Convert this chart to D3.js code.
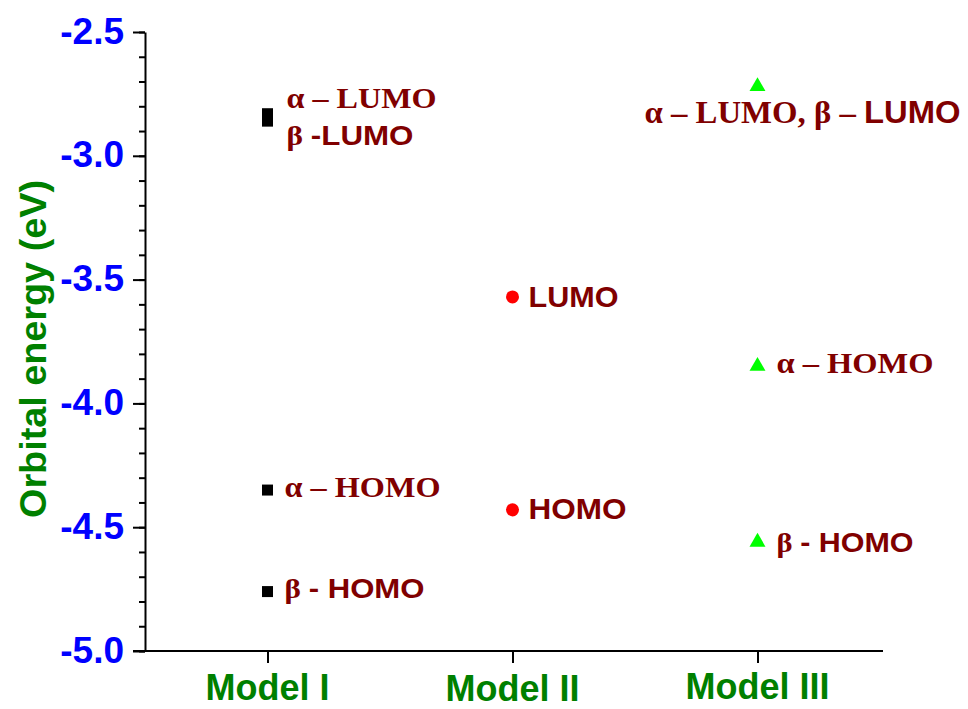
<!DOCTYPE html>
<html>
<head>
<meta charset="utf-8">
<script src="https://cdn.jsdelivr.net/npm/d3@7/dist/d3.min.js"></script>
<style>
  html, body { margin: 0; padding: 0; background: #fff; }
  svg { display: block; }
  .sans { font-family: "Liberation Sans", Arial, sans-serif; font-weight: bold; }
  .serif { font-family: "Liberation Serif", "Times New Roman", serif; font-weight: bold; }
</style>
</head>
<body>
<svg id="chart" width="968" height="709"></svg>
<script>
// Frontier orbital energies (eV) for the three models
const models = ["Model I", "Model II", "Model III"];
const yTicks = [-5.0, -4.5, -4.0, -3.5, -3.0, -2.5];

const model1Energies = [-2.83, -2.86, -4.35, -4.76];
const model1Labels = [
  [["serif", "α – LUMO"]],
  [["serif", "β "], ["sans", "-LUMO"]],
  [["serif", "α – HOMO"]],
  [["serif", "β "], ["sans", "- HOMO"]]
];

const model2Energies = [-3.57, -4.43];
const model2Labels = [
  [["sans", "LUMO"]],
  [["sans", "HOMO"]]
];

const model3Energies = [-2.72, -3.85, -4.56];
const model3Labels = [
  [["serif", "α – LUMO, β – "], ["sans", "LUMO"]],
  [["serif", "α – HOMO"]],
  [["serif", "β "], ["sans", "- HOMO"]]
];

// Label layout relative to each marker: [dx, dy to baseline, font size, run length]
const model1Place = [[19, -6, 30, 150], [19, 24, 27, 127], [17, 7, 30, 156], [17, 6, 27, 140]];
const model2Place = [[16, 10, 30, 90], [16, 9, 30, 98]];
const model3Place = [[-113, 37, 31, 316], [19, 7, 30, 157], [19, 10, 27, 137]];

const series = [
  { model: models[0], energies: model1Energies, labels: model1Labels, place: model1Place,
    symbol: d3.symbolSquare, size: 121, color: "#000000" },
  { model: models[1], energies: model2Energies, labels: model2Labels, place: model2Place,
    symbol: d3.symbolCircle, size: 133, color: "#ff0000" },
  { model: models[2], energies: model3Energies, labels: model3Labels, place: model3Place,
    symbol: d3.symbolTriangle, size: 110, color: "#00ff00" }
];

const svg = d3.select("#chart");
const plotLeft = 145, plotRight = 880, plotTop = 32, plotBottom = 651;

const x = d3.scalePoint().domain(models).range([plotLeft, plotRight]).padding(0.5);
const y = d3.scaleLinear().domain([-5.0, -2.5]).range([plotBottom, plotTop]);

// Minor y ticks every 0.1 eV
svg.append("g")
  .attr("transform", `translate(${plotLeft},0)`)
  .call(d3.axisLeft(y).tickValues(d3.range(-50, -24, 1).map(v => v / 10)).tickSize(6).tickFormat(""))
  .call(g => g.select(".domain").remove())
  .call(g => g.selectAll("line").attr("stroke", "#000").attr("stroke-width", 2));

// Major y ticks with labels
svg.append("g")
  .attr("transform", `translate(${plotLeft},0)`)
  .call(d3.axisLeft(y).tickValues(yTicks).tickSize(12).tickSizeOuter(0).tickPadding(9)
    .tickFormat(d => d.toFixed(1)))
  .call(g => g.select(".domain").attr("stroke", "#000").attr("stroke-width", 2))
  .call(g => g.selectAll("line").attr("stroke", "#000").attr("stroke-width", 2))
  .call(g => g.selectAll("text")
    .attr("class", "sans")
    .attr("fill", "#0000ff")
    .attr("font-size", 37)
    .attr("dy", null)
    .attr("y", 11));

// X axis with category ticks
svg.append("g")
  .attr("transform", `translate(0,${plotBottom})`)
  .call(d3.axisBottom(x).tickSize(12).tickSizeOuter(0).tickFormat(""))
  .call(g => g.select(".domain").attr("d", `M${plotLeft - 12},0H${plotRight + 3}`).attr("stroke", "#000").attr("stroke-width", 2))
  .call(g => g.selectAll("line").attr("stroke", "#000").attr("stroke-width", 2));

// Category labels
const catBaseline = [700, 701, 699];
svg.append("g").selectAll("text")
  .data(models)
  .join("text")
  .attr("class", "sans")
  .attr("x", d => x(d))
  .attr("y", (d, i) => catBaseline[i])
  .attr("text-anchor", "middle")
  .attr("font-size", 36)
  .attr("fill", "#008000")
  .text(d => d);

// Y axis title
svg.append("text")
  .attr("class", "sans")
  .attr("transform", "translate(46,349) rotate(-90)")
  .attr("text-anchor", "middle")
  .attr("font-size", 37)
  .attr("textLength", 338)
  .attr("lengthAdjust", "spacingAndGlyphs")
  .attr("fill", "#008000")
  .text("Orbital energy (eV)");

// Markers and their orbital labels
series.forEach(s => {
  const g = svg.append("g");
  const cx = x(s.model);
  g.selectAll("path")
    .data(s.energies)
    .join("path")
    .attr("d", d3.symbol().type(s.symbol).size(s.size))
    .attr("transform", d => `translate(${cx},${y(d)})`)
    .attr("fill", s.color);

  s.energies.forEach((e, i) => {
    const [dx, dy, fs, len] = s.place[i];
    const t = g.append("text")
      .attr("x", cx + dx)
      .attr("y", y(e) + dy)
      .attr("font-size", fs)
      .attr("textLength", len)
      .attr("lengthAdjust", "spacingAndGlyphs")
      .attr("fill", "#800000")
      .style("white-space", "pre");
    s.labels[i].forEach(([cls, str]) => {
      t.append("tspan").attr("class", cls).text(str);
    });
  });
});
</script>
</body>
</html>
